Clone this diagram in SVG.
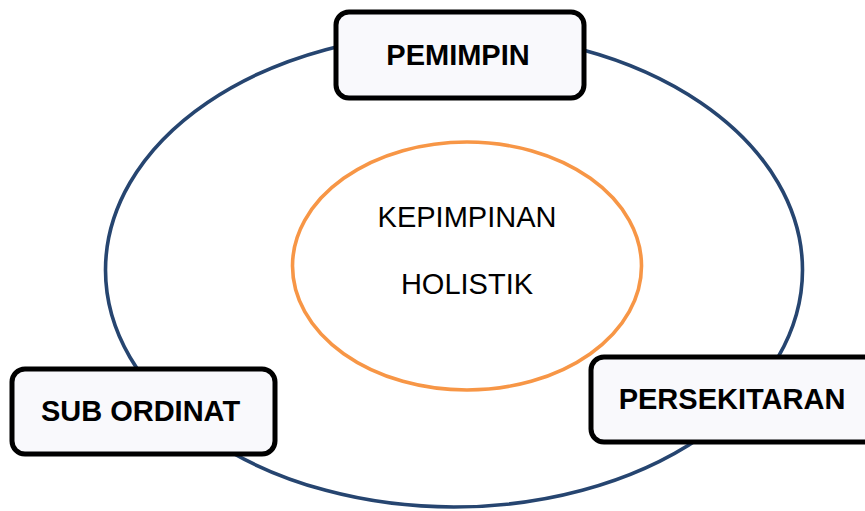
<svg xmlns="http://www.w3.org/2000/svg" width="865" height="511" viewBox="0 0 865 511">
<style>
.ring{fill:none;stroke:#264570;stroke-width:3.6}
.core{fill:#fff;stroke:#f79646;stroke-width:3.6}
.box{fill:#f9f9fc;stroke:#000;stroke-width:5}
.lbl{font-family:"Liberation Sans",Arial,sans-serif;font-weight:bold;font-size:29px;fill:#000;text-anchor:middle}
.core-t{font-family:"Liberation Sans",Arial,sans-serif;font-size:29px;fill:#000;text-anchor:middle}
</style>
<g id="connectors">
<ellipse class="ring" cx="454" cy="270" rx="348.5" ry="237"/>
</g>
<g id="core">
<ellipse class="core" cx="467" cy="266" rx="174.5" ry="124"/>
<text class="core-t" x="467" y="227">KEPIMPINAN</text>
<text class="core-t" x="467" y="294">HOLISTIK</text>
</g>
<g id="pemimpin">
<rect class="box" x="336" y="12" width="248" height="86" rx="13"/>
<text class="lbl" x="458" y="65">PEMIMPIN</text>
</g>
<g id="subordinat">
<rect class="box" x="12" y="369" width="263" height="85" rx="13"/>
<text class="lbl" x="140.5" y="421">SUB ORDINAT</text>
</g>
<g id="persekitaran">
<rect class="box" x="591" y="357" width="290" height="85" rx="13"/>
<text class="lbl" x="732" y="409">PERSEKITARAN</text>
</g>
</svg>
